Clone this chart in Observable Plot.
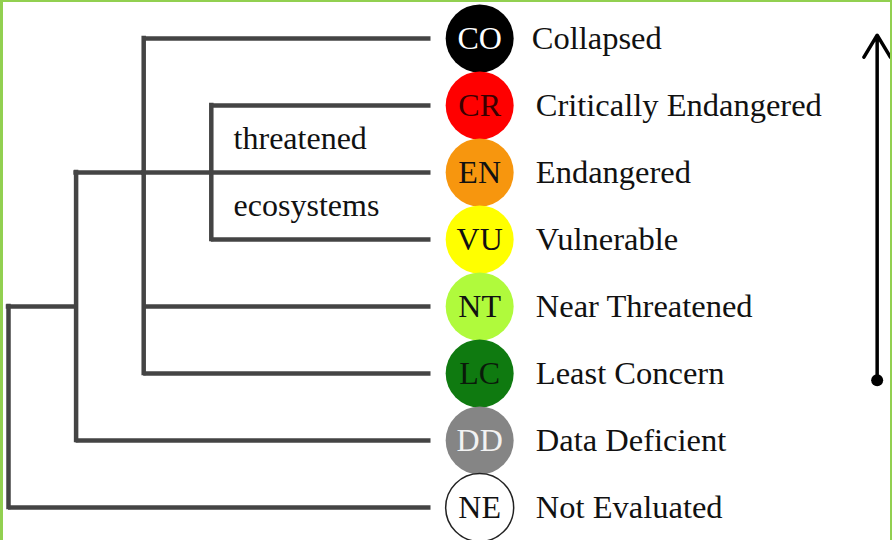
<!DOCTYPE html>
<html>
<head>
<meta charset="utf-8">
<script src="https://cdn.jsdelivr.net/npm/d3@7"></script>
<script src="https://cdn.jsdelivr.net/npm/@observablehq/plot@0.6"></script>
<style>
  html, body { margin: 0; padding: 0; background: #fff; }
  #wrap { position: relative; width: 892px; height: 540px; overflow: hidden; }
  #frame { position: absolute; left: 0; top: 0; width: 892px; height: 560px; box-sizing: border-box;
           border-left: 3px solid #92d050; border-top: 2px solid #92d050; border-right: 2px solid #92d050;
           pointer-events: none; }
</style>
</head>
<body>
<div id="wrap"><div id="frame"></div></div>
<script>
// Categories (top to bottom)
const codes = ["CO", "CR", "EN", "VU", "NT", "LC", "DD", "NE"];
const names = ["Collapsed", "Critically Endangered", "Endangered", "Vulnerable",
               "Near Threatened", "Least Concern", "Data Deficient", "Not Evaluated"];
const fillColors = ["#000000", "#ff0000", "#f7960e", "#ffff00", "#b0fa3c", "#0f7a10", "#858585", "#ffffff"];
const codeTextColors = ["#ffffff", "#3a0000", "#111111", "#111111", "#111111", "#0a1a0a", "#f2f2f2", "#111111"];

// Tree: each clade = depth of its branch line, first/last row spanned, row where it joins its parent
const cladeDepth = [0, 1, 2, 3];
const cladeFrom  = [4, 2, 0, 1];
const cladeTo    = [7, 6, 5, 3];
const cladeJoin  = [null, 4, 2, 2];
const cladeParentDepth = [null, 0, 1, 2];
// Depth of the clade each category (leaf) hangs from
const leafParentDepth = [2, 3, 3, 3, 2, 2, 1, 0];
const groupLabels = ["threatened", "ecosystems"];
const groupLabelRows = [1.5, 2.5];

// Column positions (in depth units)
const leafEnd = 6.25, circleCol = 6.97, labelCol = 7.8, groupCol = 3.33, arrowCol = 12.85;

const rows = codes.map((c, i) => ({code: c, name: names[i], row: i, parent: leafParentDepth[i]}));
const clades = cladeDepth.map((d, i) => ({depth: d, from: cladeFrom[i], to: cladeTo[i], join: cladeJoin[i], pd: cladeParentDepth[i]}));
const joins = clades.filter(d => d.join !== null);
const groups = groupLabels.map((t, i) => ({text: t, row: groupLabelRows[i]}));

const lineColor = "#444444";
const serif = "Liberation Serif, Times New Roman, serif";

const chart = Plot.plot({
  width: 892,
  height: 540,
  margin: 0,
  x: {type: "linear", domain: [0, 13], range: [8, 8 + 13 * 67.6], axis: null},
  y: {type: "linear", domain: [0, 7], range: [38, 507], axis: null},
  color: {domain: codes, range: fillColors},
  style: {fontFamily: serif, background: "transparent", overflow: "visible"},
  marks: [
    // vertical branch lines
    Plot.ruleX(clades, {x: "depth", y1: "from", y2: "to", stroke: lineColor, strokeWidth: 4.5, strokeLinecap: "square"}),
    // clade joins
    Plot.ruleY(joins, {y: "join", x1: "pd", x2: "depth", stroke: lineColor, strokeWidth: 4.5, strokeLinecap: "square"}),
    // leaf branches
    Plot.ruleY(rows, {y: "row", x1: "parent", x2: () => leafEnd, stroke: lineColor, strokeWidth: 4.5, strokeLinecap: "butt"}),
    // category circles
    Plot.dot(rows, {x: () => circleCol, y: "row", r: 34, fill: "code", stroke: d => d.code === "NE" ? "#222" : "none", strokeWidth: 1.5}),
    Plot.text(rows, {x: () => circleCol, y: "row", text: "code", fill: (d, i) => codeTextColors[i], fontSize: 32, fontFamily: serif}),
    // category names
    Plot.text(rows, {x: d => d.row === 0 ? labelCol - 0.06 : labelCol, y: "row", text: "name", textAnchor: "start", fill: "#111", fontSize: 32.5, fontFamily: serif}),
    // group labels
    Plot.text(groups, {x: () => groupCol, y: "row", text: "text", textAnchor: "start", fill: "#111", fontSize: 32, fontFamily: serif}),
    // risk arrow
    Plot.arrow([{a: 5.1, b: -0.05}], {x1: () => arrowCol, x2: () => arrowCol, y1: "a", y2: "b", stroke: "#000", strokeWidth: 3.5, headLength: 11, headAngle: 62}),
    Plot.dot([{a: 5.1}], {x: () => arrowCol, y: "a", r: 6, fill: "#000"})
  ]
});
document.getElementById("wrap").insertBefore(chart, document.getElementById("frame"));
</script>
</body>
</html>
